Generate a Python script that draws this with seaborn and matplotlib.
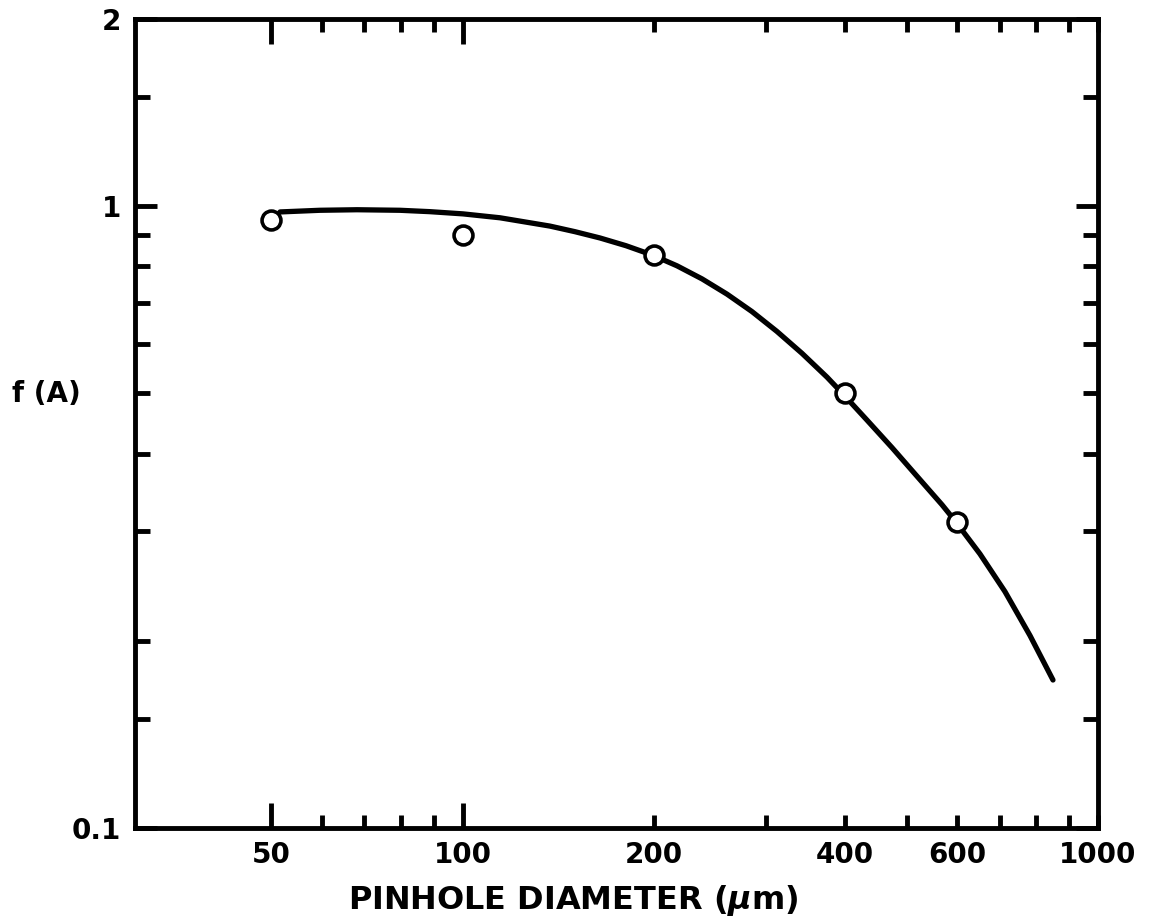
import matplotlib
matplotlib.use("Agg")
import matplotlib.pyplot as plt
import seaborn as sns
from matplotlib.ticker import FixedLocator, FixedFormatter

# Measured transmission factor f(A) versus pinhole diameter
diameter_um = [50, 100, 200, 400, 600]
f_measured = [0.95, 0.90, 0.835, 0.50, 0.31]

# Hand-drawn fitted curve through the measurements
curve_um = [51.6, 59.6, 68.2, 79.7, 88.8, 100.1, 114.5, 137.2, 150.2, 164.5,
            180.7, 198.6, 217.4, 238.1, 260.7, 285.3, 312.3, 342.0, 374.5,
            395.3, 432.8, 474.0, 518.8, 568.2, 595.4, 651.8, 713.7, 781.4,
            849.4]
curve_f = [0.979, 0.985, 0.987, 0.985, 0.980, 0.972, 0.958, 0.929, 0.910,
           0.889, 0.864, 0.835, 0.802, 0.764, 0.722, 0.677, 0.629, 0.580,
           0.531, 0.501, 0.453, 0.409, 0.368, 0.331, 0.312, 0.276, 0.240,
           0.204, 0.173]

# Axis ticks and labels
x_major = [50, 100]
x_major_labels = ["50", "100"]
x_minor = [60, 70, 80, 90, 200, 300, 400, 500, 600, 700, 800, 900, 1000]
x_minor_labels = ["", "", "", "", "200", "", "400", "", "600", "", "", "", "1000"]
y_major = [0.1, 1, 2]
y_major_labels = ["0.1", "1", "2"]
y_minor = [0.15, 0.2, 0.3, 0.4, 0.5, 0.6, 0.7, 0.8, 0.9, 1.5]

sns.set_style("ticks")
plt.rcParams["font.family"] = ["DejaVu Sans"]
plt.rcParams["font.weight"] = "bold"
plt.rcParams["text.color"] = "black"
plt.rcParams["axes.labelcolor"] = "black"

fig = plt.figure(figsize=(11.5, 9.23), dpi=100)
ax = fig.add_axes([0.1174, 0.1029, 0.8374, 0.8765])

sns.lineplot(x=curve_um, y=curve_f, color="black", linewidth=3.8,
             sort=False, estimator=None, ax=ax, zorder=2)
sns.scatterplot(x=diameter_um, y=f_measured, marker="o", s=185,
                facecolor="white", edgecolor="black", linewidth=2.6,
                ax=ax, zorder=3)

ax.set_xscale("log")
ax.set_yscale("log")
ax.set_xlim(30.5, 1000)
ax.set_ylim(0.1, 2)

ax.xaxis.set_major_locator(FixedLocator(x_major))
ax.xaxis.set_major_formatter(FixedFormatter(x_major_labels))
ax.xaxis.set_minor_locator(FixedLocator(x_minor))
ax.xaxis.set_minor_formatter(FixedFormatter(x_minor_labels))
ax.yaxis.set_major_locator(FixedLocator(y_major))
ax.yaxis.set_major_formatter(FixedFormatter(y_major_labels))
ax.yaxis.set_minor_locator(FixedLocator(y_minor))
ax.yaxis.set_minor_formatter(FixedFormatter([""] * len(y_minor)))

for side in ax.spines.values():
    side.set_linewidth(3.5)
    side.set_color("black")

ax.tick_params(axis="both", which="both", direction="in", top=True, right=True,
               width=3.5, color="black", labelsize=20, labelcolor="black")
ax.tick_params(axis="x", which="major", length=18, pad=9)
ax.tick_params(axis="x", which="minor", length=9.5, pad=9)
ax.tick_params(axis="y", which="major", length=16, pad=10)
ax.tick_params(axis="y", which="minor", length=11, pad=10)

ax.set_xlabel("PINHOLE DIAMETER ($\\mu$m)", fontsize=23, fontweight="bold",
              color="black")
ax.xaxis.set_label_coords(0.455, -0.089)
ax.xaxis.label.set_va("center")
ax.set_ylabel("f (A)", fontsize=20, fontweight="bold", rotation=0,
              color="black")
ax.yaxis.set_label_coords(-0.092, 0.536)
ax.yaxis.label.set_va("center")
ax.yaxis.label.set_ha("center")

fig.savefig("out.png", dpi=100, facecolor="white")
